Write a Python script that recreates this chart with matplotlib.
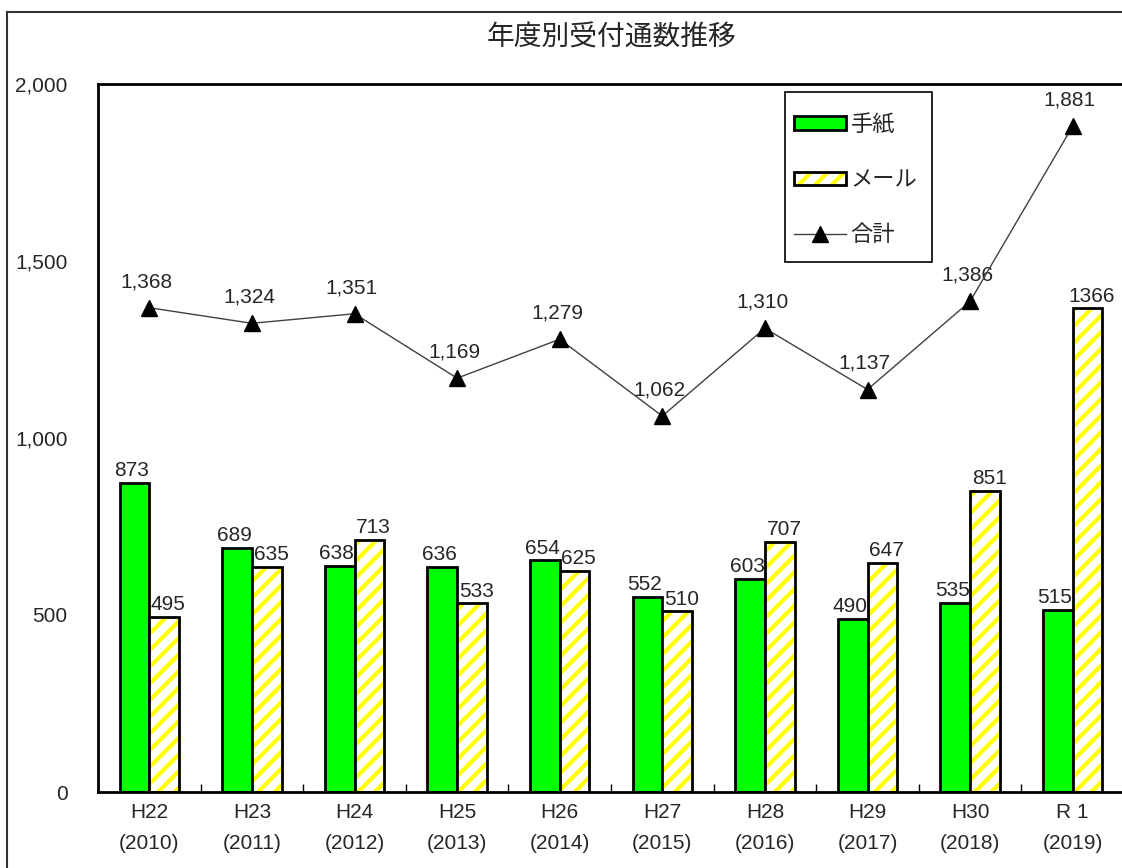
import matplotlib
matplotlib.use("Agg")
import matplotlib.pyplot as plt
from matplotlib.patches import Patch, Rectangle
from matplotlib.lines import Line2D
import numpy as np

plt.rcParams['font.family'] = ['Liberation Sans', 'Noto Sans CJK JP', 'DejaVu Sans']
plt.rcParams['hatch.linewidth'] = 3.0
CJK = ['Noto Sans CJK JP', 'DejaVu Sans']

categories = ["H22\n(2010)", "H23\n(2011)", "H24\n(2012)", "H25\n(2013)", "H26\n(2014)",
              "H27\n(2015)", "H28\n(2016)", "H29\n(2017)", "H30\n(2018)", "R 1\n(2019)"]
letters = [873, 689, 638, 636, 654, 552, 603, 490, 535, 515]
emails = [495, 635, 713, 533, 625, 510, 707, 647, 851, 1366]
totals = [1368, 1324, 1351, 1169, 1279, 1062, 1310, 1137, 1386, 1881]
email_labels = ["495", "635", "713", "533", "625", "510", "707", "647", "851", "1366"]
y_ticks = [0, 500, 1000, 1500, 2000]
y_tick_labels = ["0", "500", "1,000", "1,500", "2,000"]

W, H = 1122, 868
fig = plt.figure(figsize=(W / 100, H / 100), dpi=100)

def fx(px):
    return px / W

def fy(py):
    return 1 - py / H

left_px, right_px, top_px, bottom_px = 98, 1124, 84, 792
ax = fig.add_axes([fx(left_px), fy(bottom_px),
                   (right_px - left_px) / W, (bottom_px - top_px) / H])

GREEN = "#00FF00"
YELLOW = "#FFFF00"
TXT = "#262626"
NUM_FS = 15
x = np.arange(len(categories))
bw = 0.29

# letters
ax.bar(x - bw / 2, letters, bw, color=GREEN, edgecolor="black", linewidth=2, zorder=2)
# emails: yellow hatch layer, then black outline on top
ax.bar(x + bw / 2, emails, bw, color="white", edgecolor=YELLOW, hatch="//",
       linewidth=0, zorder=2)
ax.bar(x + bw / 2, emails, bw, fill=False, edgecolor="black", linewidth=2, zorder=3)

# totals
ax.plot(x, totals, color="#404040", linewidth=1, marker="^", markersize=11,
        markerfacecolor="black", markeredgecolor="black", zorder=4)

for xi, v in zip(x, letters):
    ax.annotate(str(v), (xi - bw / 2, v), xytext=(-2, 2), textcoords="offset points",
                ha="center", va="bottom", fontsize=NUM_FS, color=TXT)
for xi, v, s in zip(x, emails, email_labels):
    ax.annotate(s, (xi + bw / 2, v), xytext=(3, 2), textcoords="offset points",
                ha="center", va="bottom", fontsize=NUM_FS, color=TXT)
for xi, v in zip(x, totals):
    ax.annotate(f"{v:,}", (xi, v), xytext=(-2, 12), textcoords="offset points",
                ha="center", va="bottom", fontsize=NUM_FS, color=TXT)

ax.set_xlim(-0.5, len(categories) - 0.5)
ax.set_ylim(0, 2000)
ax.set_yticks(y_ticks)
ax.set_yticklabels(y_tick_labels)
ax.tick_params(axis="y", length=0, pad=22, labelsize=NUM_FS, labelcolor=TXT)
ax.set_xticks(x)
ax.set_xticklabels(categories, linespacing=1.8)
ax.tick_params(axis="x", length=0, pad=8, labelsize=NUM_FS, labelcolor=TXT)
ax.set_xticks(np.arange(0.5, len(categories) - 0.5, 1.0), minor=True)
ax.tick_params(axis="x", which="minor", direction="in", length=6, width=1)
for s in ["left", "top", "bottom"]:
    ax.spines[s].set_linewidth(2)
ax.spines["right"].set_visible(False)

fig.text(fx(612), fy(38), "年度別受付通数推移", ha="center", va="center",
         fontsize=20, color=TXT, family=CJK)

# outer frame
fig.add_artist(Line2D([fx(7), fx(7)], [0, fy(12)], transform=fig.transFigure,
                      color="#333333", linewidth=1.5))
fig.add_artist(Line2D([fx(7), 1], [fy(12), fy(12)], transform=fig.transFigure,
                      color="#333333", linewidth=1.5))

# legend (drawn without its own frame, boxed separately)
h_letter = Patch(facecolor=GREEN, edgecolor="black", linewidth=2)
h_mail = (Patch(facecolor="white", edgecolor=YELLOW, hatch="//", linewidth=0),
          Patch(fill=False, edgecolor="black", linewidth=2))
h_total = Line2D([], [], color="#404040", linewidth=1, marker="^", markersize=11,
                 markerfacecolor="black", markeredgecolor="black")
leg = fig.legend([h_letter, h_mail, h_total], ["手紙", "メール", "合計"],
                 loc="upper left", bbox_to_anchor=(fx(794), fy(113)),
                 bbox_transform=fig.transFigure, borderaxespad=0,
                 prop={"family": CJK, "size": 16}, handlelength=2.35,
                 handleheight=0.55, labelspacing=1.45, handletextpad=0.2,
                 borderpad=0, frameon=False)
for t in leg.get_texts():
    t.set_color(TXT)
fig.add_artist(Rectangle((fx(785), fy(262)), fx(932) - fx(785), fy(92) - fy(262),
                         transform=fig.transFigure, facecolor="none",
                         edgecolor="black", linewidth=1.2, zorder=5))

fig.savefig("out.png", dpi=100)
